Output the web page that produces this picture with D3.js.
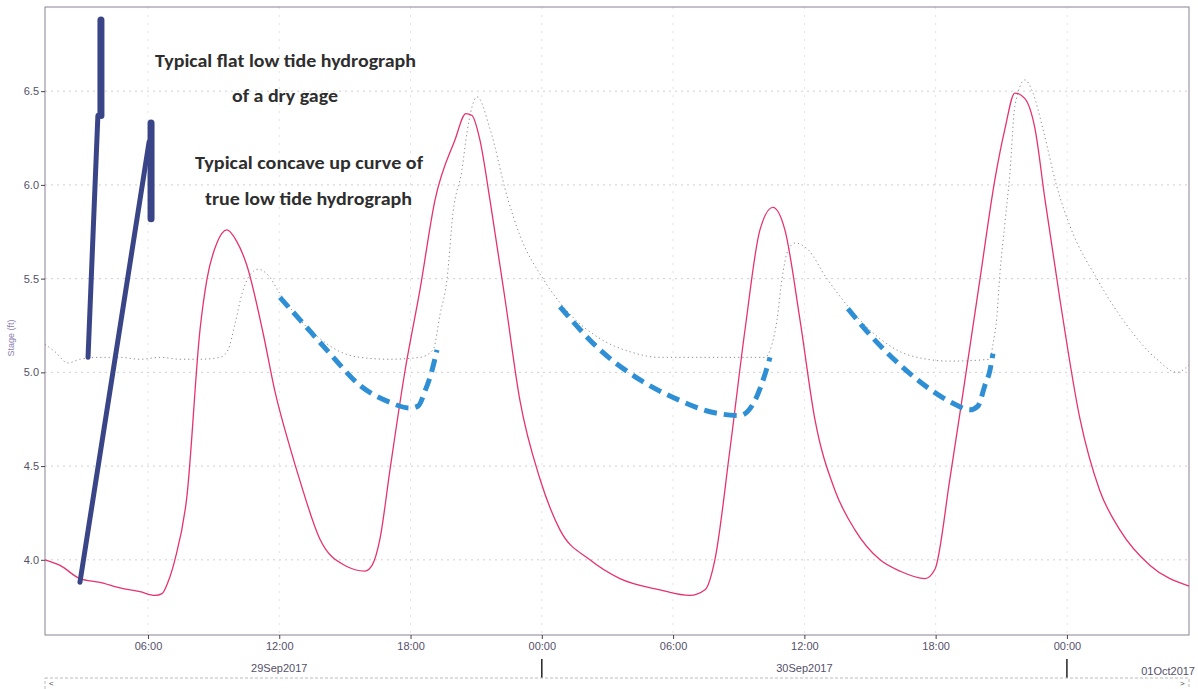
<!DOCTYPE html>
<html>
<head>
<meta charset="utf-8">
<script src="https://cdn.jsdelivr.net/npm/d3@7"></script>
<style>
html,body{margin:0;padding:0;background:#fff;}
svg{display:block;}
</style>
</head>
<body>
<svg id="chart" width="1198" height="689"></svg>
<script>
// ---- data (hours after 29Sep2017 00:00, stage in ft) ----
const tideHours = [1.29,1.98,2.89,3.81,4.72,5.63,6.32,6.64,6.91,7.23,7.78,8.38,8.7,9.15,9.61,10.05,10.52,11.26,11.8,12.49,12.95,13.86,15.0,15.92,16.24,16.6,17.06,17.75,18.43,19.12,20.03,20.53,20.81,21.17,21.63,22.32,23.0,23.92,24.83,26.2,27.57,29.4,30.77,31.46,31.91,32.6,33.29,33.97,34.56,35.11,35.8,36.48,37.4,38.31,39.46,40.37,41.51,41.97,42.65,43.34,44.03,44.71,45.17,45.62,46.08,46.54,47.0,47.68,48.6,49.5,50.42,51.8,53.58];
const tideStage = [4.00,3.97,3.90,3.88,3.85,3.83,3.81,3.82,3.88,4.00,4.34,5.23,5.50,5.69,5.76,5.70,5.57,5.21,4.90,4.60,4.42,4.11,3.97,3.94,3.97,4.11,4.48,5.01,5.44,5.92,6.24,6.38,6.37,6.24,5.92,5.39,4.85,4.43,4.16,4.00,3.90,3.84,3.81,3.84,4.00,4.59,5.23,5.76,5.88,5.76,5.28,4.75,4.37,4.16,4.00,3.94,3.90,3.95,4.43,4.96,5.50,6.03,6.30,6.49,6.46,6.30,5.92,5.39,4.75,4.37,4.16,3.97,3.86];

const dryHours = [1.29,1.75,2.34,2.89,3.81,4.72,5.63,6.55,7.46,8.38,9.29,9.66,9.98,10.3,10.66,11.03,11.48,12.03,12.95,13.86,14.78,15.69,17.06,18.43,19.03,19.35,19.67,19.94,20.35,20.58,21.04,21.63,22.41,23.0,24.05,25.29,26.66,28.03,29.4,31.23,33.06,34.2,34.52,34.75,34.98,35.25,35.57,36.12,37.03,38.08,39.45,40.83,42.65,44.48,44.62,44.8,44.94,45.17,45.4,45.62,46.08,46.45,46.9,47.54,48.14,49.37,50.56,52.11,53.03,53.58];
const dryStage = [5.15,5.11,5.05,5.07,5.08,5.08,5.07,5.08,5.07,5.07,5.08,5.12,5.26,5.42,5.52,5.55,5.52,5.42,5.28,5.18,5.11,5.08,5.07,5.08,5.12,5.31,5.50,5.85,6.08,6.28,6.47,6.30,5.94,5.73,5.50,5.31,5.18,5.11,5.08,5.08,5.08,5.08,5.15,5.28,5.50,5.65,5.69,5.66,5.50,5.34,5.18,5.09,5.06,5.07,5.15,5.30,5.53,5.80,6.07,6.42,6.56,6.49,6.30,5.99,5.78,5.50,5.28,5.07,5.00,5.04];

// concave-up "true low tide" sketches
const curve1Hours = [12.03,12.95,14.32,15.69,17.06,17.97,18.34,18.66,18.98,19.21];
const curve1Stage = [5.40,5.28,5.10,4.93,4.84,4.81,4.82,4.90,5.01,5.12];
const curve2Hours = [24.83,26.66,28.49,30.31,31.69,33.06,33.74,34.2,34.43];
const curve2Stage = [5.35,5.12,4.96,4.85,4.79,4.77,4.85,4.99,5.08];
const curve3Hours = [37.99,39.0,40.37,41.74,42.88,43.57,43.93,44.25,44.48,44.62];
const curve3Stage = [5.34,5.20,5.04,4.91,4.83,4.80,4.82,4.93,5.01,5.10];

// annotation pointer strokes [hours, stage]
const pointerFlat = [[3.26,5.08],[3.71,6.37]];
const pointerFlatBar = [[3.85,6.88],[3.85,6.37]];
const pointerConcave = [[2.89,3.88],[6.05,6.23]];
const pointerConcaveBar = [[6.14,6.33],[6.14,5.82]];

const yTicks = [4.0,4.5,5.0,5.5,6.0,6.5];
const xTickHours = [6,12,18,24,30,36,42,48];
const dateLabels = [{h:12,text:"29Sep2017"},{h:36,text:"30Sep2017"}];
const endDateLabel = "01Oct2017";
const midnightHours = [24,48];
const annotationLines = [
  {text:"Typical flat low tide hydrograph", cx:285.5, y:67, w:261},
  {text:"of a dry gage", cx:285, y:102, w:106},
  {text:"Typical concave up curve of", cx:309, y:169, w:228},
  {text:"true low tide hydrograph", cx:308.5, y:205, w:207}
];
const yLabel = "Stage (ft)";

// ---- layout ----
const base = new Date(2017,8,29,0,0);
const toDate = h => new Date(base.getTime() + h*3600000);
const L = 45, R = 1189, T = 7, B = 635;

const svg = d3.select("#chart");
const x = d3.scaleTime().domain([toDate(1.293), toDate(53.58)]).range([L, R]);
const y = d3.scaleLinear().domain([3.599, 6.949]).range([B, T]);

// grid
const grid = svg.append("g");
grid.selectAll("line.h").data(yTicks).join("line")
  .attr("x1", L).attr("x2", R)
  .attr("y1", d => y(d)).attr("y2", d => y(d))
  .attr("stroke", "#cfcfcf").attr("stroke-width", 1).attr("stroke-dasharray", "2,4");
grid.selectAll("line.v").data(xTickHours).join("line")
  .attr("x1", d => x(toDate(d))).attr("x2", d => x(toDate(d)))
  .attr("y1", T).attr("y2", B)
  .attr("stroke", "#e2e2e2").attr("stroke-width", 1).attr("stroke-dasharray", "2,6");

// frame
svg.append("rect").attr("x", L).attr("y", T).attr("width", R-L).attr("height", B-T)
  .attr("fill", "none").attr("stroke", "#8c8094").attr("stroke-width", 1);

// axes
const yAxis = d3.axisLeft(y).tickValues(yTicks).tickFormat(d3.format(".1f")).tickSize(4).tickPadding(2);
const gy = svg.append("g").attr("transform", `translate(${L},0)`).call(yAxis);
gy.select(".domain").remove();
gy.selectAll("text").attr("font-family", "Liberation Sans, Arial, sans-serif").attr("font-size", 11).attr("fill", "#55506a");
gy.selectAll("line").attr("stroke", "#444");

const xAxis = d3.axisBottom(x).tickValues(xTickHours.map(toDate)).tickFormat(d3.timeFormat("%H:%M")).tickSize(4).tickPadding(3);
const gx = svg.append("g").attr("transform", `translate(0,${B})`).call(xAxis);
gx.select(".domain").remove();
gx.selectAll("text").attr("font-family", "Liberation Sans, Arial, sans-serif").attr("font-size", 11).attr("fill", "#55506a");
gx.selectAll("line").attr("stroke", "#444");

svg.selectAll("text.date").data(dateLabels).join("text")
  .attr("x", d => x(toDate(d.h))).attr("y", 672)
  .attr("text-anchor", "middle")
  .attr("font-family", "Liberation Sans, Arial, sans-serif").attr("font-size", 11).attr("fill", "#55506a")
  .text(d => d.text);
svg.append("text").attr("x", 1195).attr("y", 675).attr("text-anchor", "end")
  .attr("font-family", "Liberation Sans, Arial, sans-serif").attr("font-size", 11).attr("fill", "#55506a")
  .text(endDateLabel);
svg.selectAll("line.mid").data(midnightHours).join("line")
  .attr("x1", d => x(toDate(d))).attr("x2", d => x(toDate(d)))
  .attr("y1", 659).attr("y2", 678).attr("stroke", "#222").attr("stroke-width", 1.5);

// y label
svg.append("text").attr("transform", `translate(14,${338}) rotate(-90)`)
  .attr("text-anchor", "middle")
  .attr("font-family", "Liberation Sans, Arial, sans-serif").attr("font-size", 9).attr("fill", "#8a80b0")
  .text(yLabel);

// scrollbar
svg.append("rect").attr("x", L).attr("y", 678).attr("width", R-L).attr("height", 14)
  .attr("fill", "none").attr("stroke", "#bbb").attr("stroke-dasharray", "3,2");
svg.append("text").attr("x", 49).attr("y", 686).attr("font-family", "Liberation Sans, Arial").attr("font-size", 8).attr("fill", "#444").text("<");
svg.append("text").attr("x", 1180).attr("y", 686).attr("font-family", "Liberation Sans, Arial").attr("font-size", 8).attr("fill", "#444").text(">");

// series
const line = d3.line().x(d => x(toDate(d[0]))).y(d => y(d[1])).curve(d3.curveMonotoneX);
const plot = svg.append("g");
plot.append("path").datum(d3.zip(dryHours, dryStage)).attr("d", line)
  .attr("fill", "none").attr("stroke", "#8a8a8a").attr("stroke-width", 1).attr("stroke-dasharray", "1.2,3");
plot.append("path").datum(d3.zip(tideHours, tideStage)).attr("d", line)
  .attr("fill", "none").attr("stroke", "#e5336e").attr("stroke-width", 1.3);

[[curve1Hours,curve1Stage],[curve2Hours,curve2Stage],[curve3Hours,curve3Stage]].forEach(([h,s]) => {
  plot.append("path").datum(d3.zip(h, s)).attr("d", line)
    .attr("fill", "none").attr("stroke", "#2f8fd5").attr("stroke-width", 5)
    .attr("stroke-dasharray", "13,7");
});

const straight = d3.line().x(d => x(toDate(d[0]))).y(d => y(d[1]));
[pointerFlat, pointerConcave].forEach(p => {
  plot.append("path").datum(p).attr("d", straight)
    .attr("fill", "none").attr("stroke", "#3a4588").attr("stroke-width", 5).attr("stroke-linecap", "round");
});
[pointerFlatBar, pointerConcaveBar].forEach(p => {
  plot.append("path").datum(p).attr("d", straight)
    .attr("fill", "none").attr("stroke", "#3a4588").attr("stroke-width", 7).attr("stroke-linecap", "round");
});

// annotation text
svg.selectAll("text.ann").data(annotationLines).join("text")
  .attr("x", d => d.cx - d.w/2).attr("y", d => d.y)
  .attr("textLength", d => d.w).attr("lengthAdjust", "spacingAndGlyphs")
  .attr("font-family", "Carlito, Lato, sans-serif").attr("font-weight", 700).attr("font-size", 19)
  .attr("fill", "#2e2e2e")
  .text(d => d.text);
</script>
</body>
</html>
